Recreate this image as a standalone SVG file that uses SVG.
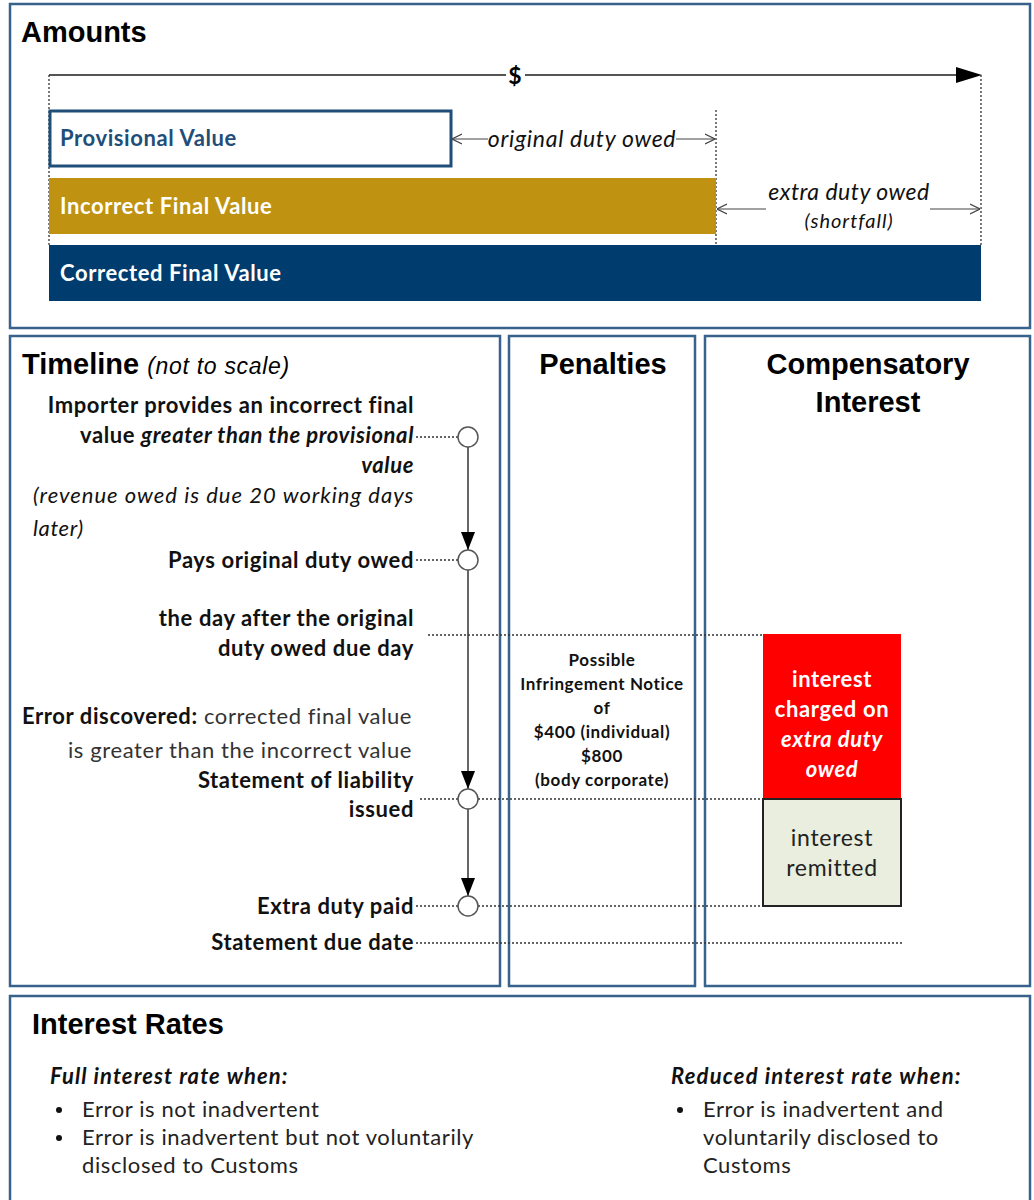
<svg xmlns="http://www.w3.org/2000/svg" width="1034" height="1200" viewBox="0 0 1034 1200">
<defs>
<style>
.panel{fill:#fff;stroke:#36628c;stroke-width:2.5}
.h{font-family:"Liberation Sans",Arial,sans-serif;font-weight:bold;font-size:29px;fill:#000}
.t{font-family:Lato,"Open Sans",sans-serif;font-size:22px;letter-spacing:0.6px;fill:#111}
.b{font-weight:bold}
.i{font-style:italic}
.dot{stroke:#333;stroke-width:1.3;stroke-dasharray:2 2;fill:none}
.axis{stroke:#666;stroke-width:2;fill:none}
.thin{stroke:#444;stroke-width:1.2;fill:none}
.node{fill:#fff;stroke:#555;stroke-width:1.5}
</style>
<marker id="fa" viewBox="0 0 14 18" refX="7" refY="18" markerWidth="14" markerHeight="18" markerUnits="userSpaceOnUse" orient="0"><path d="M0,0 L14,0 L7,18 z" fill="#000"/></marker>
<marker id="oa" viewBox="0 0 10 10" refX="10" refY="5" markerWidth="10" markerHeight="12" markerUnits="userSpaceOnUse" orient="auto"><path d="M0,0 L10,5 L0,10" fill="none" stroke="#444" stroke-width="1.2"/></marker>
</defs>
<rect width="1034" height="1200" fill="#fff"/>

<g id="amounts">
<rect class="panel" x="10" y="4" width="1020" height="324"/>
<text class="h" x="21" y="42">Amounts</text>
<line x1="49" y1="75" x2="506" y2="75" stroke="#555" stroke-width="2"/>
<line x1="525" y1="75" x2="958" y2="75" stroke="#555" stroke-width="2"/>
<path d="M956,67 L982,75 L956,83 z" fill="#000"/>
<text x="515" y="84" text-anchor="middle" font-family="Lato,sans-serif" font-weight="bold" font-size="23">$</text>
<line class="dot" x1="49" y1="75" x2="49" y2="245"/>
<line class="dot" x1="716" y1="110" x2="716" y2="245"/>
<line class="dot" x1="981" y1="75" x2="981" y2="245"/>
<g id="provisional">
<rect x="50" y="111" width="401" height="55" fill="#fff" stroke="#1f4e79" stroke-width="3"/>
<text class="t b" x="60" y="146" style="fill:#1f4e79">Provisional Value</text>
</g>
<g id="incorrect">
<rect x="49" y="178" width="667" height="56" fill="#bf9311"/>
<text class="t b" x="60" y="214" style="fill:#fff">Incorrect Final Value</text>
</g>
<g id="corrected">
<rect x="49" y="245" width="932" height="56" fill="#003c6e"/>
<text class="t b" x="60" y="281" style="fill:#fff">Corrected Final Value</text>
</g>
<line class="thin" x1="488" y1="139" x2="452" y2="139" marker-end="url(#oa)"/>
<line class="thin" x1="676" y1="139" x2="715" y2="139" marker-end="url(#oa)"/>
<text class="t i" x="582" y="147" text-anchor="middle" style="font-size:23px;letter-spacing:0.7px">original duty owed</text>
<line class="thin" x1="766" y1="209" x2="717" y2="209" marker-end="url(#oa)"/>
<line class="thin" x1="930" y1="209" x2="980" y2="209" marker-end="url(#oa)"/>
<text class="t i" x="849" y="200" text-anchor="middle" style="font-size:23px;letter-spacing:0.5px">extra duty owed</text>
<text class="t i" x="849" y="228" text-anchor="middle" style="font-size:20px;letter-spacing:1px">(shortfall)</text>
</g>

<g id="timeline-panel">
<rect class="panel" x="10" y="336" width="490" height="650"/>
<text class="h" x="22" y="374">Timeline <tspan font-weight="normal" font-style="italic" font-size="23" letter-spacing="0.7">(not to scale)</tspan></text>
</g>
<g id="penalties-panel">
<rect class="panel" x="509" y="336" width="186" height="650"/>
<text class="h" x="603" y="374" text-anchor="middle">Penalties</text>
</g>
<g id="interest-panel">
<rect class="panel" x="705" y="336" width="325" height="650"/>
<text class="h" x="868" y="374" text-anchor="middle">Compensatory</text>
<text class="h" x="868" y="412" text-anchor="middle">Interest</text>
</g>

<g id="connectors">
<line class="axis" x1="468" y1="447" x2="468" y2="550" marker-end="url(#fa)"/>
<line class="axis" x1="468" y1="570" x2="468" y2="789" marker-end="url(#fa)"/>
<line class="axis" x1="468" y1="809" x2="468" y2="896" marker-end="url(#fa)"/>
<line class="dot" x1="416" y1="437" x2="458" y2="437"/>
<line class="dot" x1="416" y1="560" x2="458" y2="560"/>
<line class="dot" x1="428" y1="635" x2="763" y2="635"/>
<line class="dot" x1="420" y1="799" x2="458" y2="799"/>
<line class="dot" x1="478" y1="799" x2="763" y2="799"/>
<line class="dot" x1="416" y1="906" x2="458" y2="906"/>
<line class="dot" x1="478" y1="906" x2="763" y2="906"/>
<line class="dot" x1="416" y1="943" x2="903" y2="943"/>
</g>

<g id="ev-importer">
<circle class="node" cx="468" cy="437" r="10"/>
<text class="t b" text-anchor="end"><tspan x="414" y="413">Importer provides an incorrect final</tspan><tspan x="414" y="443">value <tspan class="i">greater than the provisional</tspan></tspan><tspan x="414" y="473" class="i">value</tspan></text>
<text class="t i" x="33" y="503" textLength="381" lengthAdjust="spacing">(revenue owed is due 20 working days</text>
<text class="t i" x="33" y="536">later)</text>
</g>
<g id="ev-pays">
<circle class="node" cx="468" cy="560" r="10"/>
<text class="t b" x="414" y="568" text-anchor="end">Pays original duty owed</text>
</g>
<g id="ev-dayafter">
<text class="t b" text-anchor="end"><tspan x="414" y="626">the day after the original</tspan><tspan x="414" y="656">duty owed due day</tspan></text>
</g>
<g id="ev-error">
<text class="t" text-anchor="end" style="fill:#333"><tspan x="412" y="724"><tspan class="b" style="fill:#111">Error discovered:</tspan> corrected final value</tspan><tspan x="412" y="758">is greater than the incorrect value</tspan></text>
</g>
<g id="ev-statement">
<circle class="node" cx="468" cy="799" r="10"/>
<text class="t b" text-anchor="end"><tspan x="414" y="788">Statement of liability</tspan><tspan x="414" y="817">issued</tspan></text>
</g>
<g id="ev-extra">
<circle class="node" cx="468" cy="906" r="10"/>
<text class="t b" x="414" y="914" text-anchor="end">Extra duty paid</text>
</g>
<g id="ev-due">
<text class="t b" x="414" y="950" text-anchor="end">Statement due date</text>
</g>

<g id="penalty-note">
<text class="t b" text-anchor="middle" style="font-size:17px;letter-spacing:0.6px"><tspan x="602" y="666">Possible</tspan><tspan x="602" y="690">Infringement Notice</tspan><tspan x="602" y="714">of</tspan><tspan x="602" y="738">$400 (individual)</tspan><tspan x="602" y="762">$800</tspan><tspan x="602" y="786">(body corporate)</tspan></text>
</g>

<g id="interest-charged">
<rect x="763" y="634" width="138" height="165" fill="#fe0000"/>
<text class="t b" text-anchor="middle" style="fill:#fff"><tspan x="832" y="687">interest</tspan><tspan x="832" y="717">charged on</tspan><tspan x="832" y="747" class="i">extra duty</tspan><tspan x="832" y="777" class="i">owed</tspan></text>
</g>
<g id="interest-remitted">
<rect x="763" y="799" width="138" height="107" fill="#e9eedf" stroke="#222" stroke-width="2"/>
<text class="t" text-anchor="middle" style="fill:#222;font-size:23px;letter-spacing:0.7px"><tspan x="832" y="846">interest</tspan><tspan x="832" y="876">remitted</tspan></text>
</g>

<g id="rates">
<rect class="panel" x="10" y="996" width="1020" height="215"/>
<text class="h" x="32" y="1034">Interest Rates</text>
<text class="t b i" x="50" y="1084" style="letter-spacing:1.1px">Full interest rate when:</text>
<circle cx="59" cy="1110" r="3" fill="#111"/>
<circle cx="59" cy="1138" r="3" fill="#111"/>
<text class="t" style="fill:#222"><tspan x="82" y="1117">Error is not inadvertent</tspan><tspan x="82" y="1145">Error is inadvertent but not voluntarily</tspan><tspan x="82" y="1173">disclosed to Customs</tspan></text>
<text class="t b i" x="671" y="1084" style="letter-spacing:1.2px">Reduced interest rate when:</text>
<circle cx="680" cy="1110" r="3" fill="#111"/>
<text class="t" style="fill:#222"><tspan x="703" y="1117">Error is inadvertent and</tspan><tspan x="703" y="1145">voluntarily disclosed to</tspan><tspan x="703" y="1173">Customs</tspan></text>
</g>
</svg>
